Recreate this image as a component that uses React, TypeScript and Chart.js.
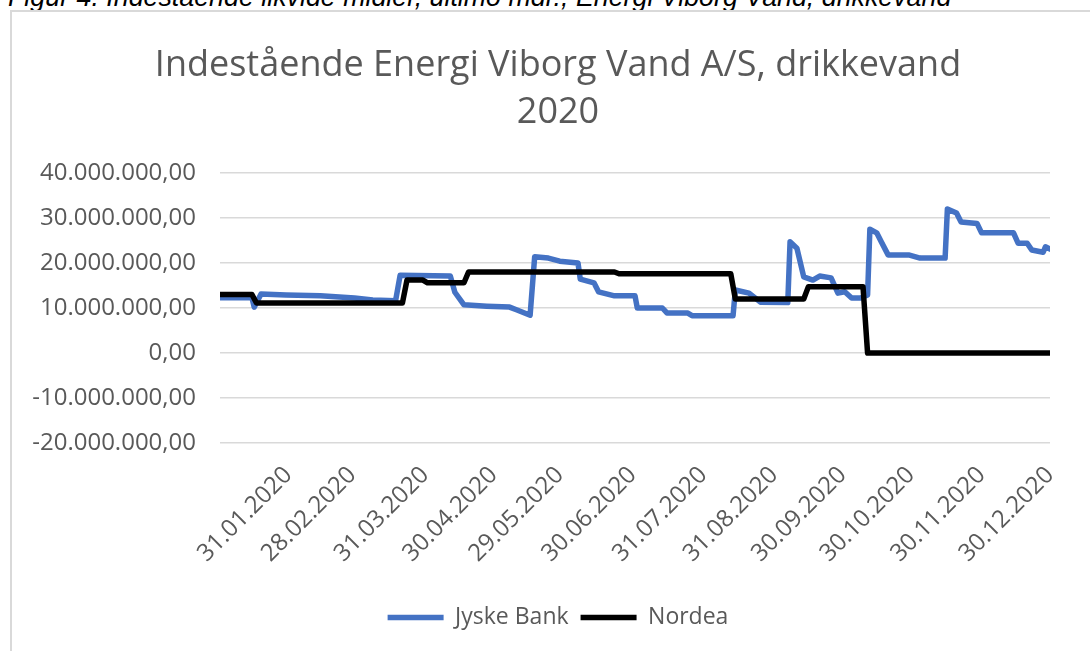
import React, { useEffect, useRef } from "react";
import { Chart, registerables } from "chart.js";

Chart.register(...registerables);

// Day-of-year (2020) for each x-axis tick and its label
const tickDays = [31, 59, 91, 121, 150, 182, 213, 244, 274, 304, 335, 365];
const tickLabels = [
  "31.01.2020", "28.02.2020", "31.03.2020", "30.04.2020", "29.05.2020", "30.06.2020",
  "31.07.2020", "31.08.2020", "30.09.2020", "30.10.2020", "30.11.2020", "30.12.2020",
];

// Jyske Bank: day-of-year and balance (DKK)
const jyskeDays = [
  1, 15, 16, 19, 30, 45, 60, 68, 78, 80, 102, 104, 108, 118, 128, 131, 137, 139, 145, 150,
  158, 159, 165, 167, 174, 183, 184, 195, 197, 206, 208, 226, 227, 233, 238, 250, 251, 254,
  257, 261, 264, 269, 272, 275, 278, 282, 285, 286, 289, 291, 294, 303, 308, 319, 320, 324,
  326, 333, 335, 349, 351, 355, 357, 362, 363, 365,
];
const jyskeValues = [
  12300000, 12300000, 10200000, 13100000, 12900000, 12700000, 12200000, 11800000, 11600000,
  17300000, 17100000, 13500000, 10700000, 10400000, 10200000, 9600000, 8400000, 21400000,
  21100000, 20400000, 20000000, 16400000, 15600000, 13600000, 12700000, 12700000, 10000000,
  10000000, 8900000, 8900000, 8300000, 8300000, 14000000, 13300000, 11300000, 11200000,
  24700000, 23300000, 16900000, 16200000, 17100000, 16700000, 13300000, 13600000, 12200000,
  12200000, 12900000, 27500000, 26700000, 24700000, 21800000, 21800000, 21100000, 21100000,
  32000000, 31100000, 29100000, 28800000, 26700000, 26700000, 24400000, 24400000, 22900000,
  22400000, 23600000, 23100000,
];

// Nordea: day-of-year and balance (DKK)
const nordeaDays = [1, 15, 17, 81, 83, 90, 92, 108, 110, 174, 176, 225, 227, 257, 259, 283, 285, 365];
const nordeaValues = [
  13000000, 13000000, 11100000, 11100000, 16200000, 16200000, 15600000, 15600000, 18000000,
  18000000, 17600000, 17600000, 12000000, 12000000, 14700000, 14700000, 0, 0,
];

const yMin = -20000000;
const yMax = 40000000;
const yStep = 10000000;

const titleLines = ["Indestående Energi Viborg Vand A/S, drikkevand", "2020"];
const seriesNames = ["Jyske Bank", "Nordea"];
const caption = "Figur 4. Indestående likvide midler, ultimo mdr., Energi Viborg Vand, drikkevand";

function formatDK(v: number): string {
  const neg = v < 0;
  const a = Math.abs(Math.round(v));
  const s = String(a).replace(/\B(?=(\d{3})+(?!\d))/g, ".");
  return (neg ? "-" : "") + s + ",00";
}

export default function App() {
  const canvasRef = useRef<HTMLCanvasElement | null>(null);

  useEffect(() => {
    if (!canvasRef.current) return;
    const font = "'Open Sans', sans-serif";
    const grey = "#595959";
    const chart = new Chart(canvasRef.current, {
      type: "line",
      data: {
        datasets: [
          {
            label: seriesNames[0],
            data: jyskeDays.map((d, i) => ({ x: d, y: jyskeValues[i] })),
            borderColor: "#4472C4",
            backgroundColor: "#4472C4",
            borderWidth: 5.5,
            pointRadius: 0,
            tension: 0,
            borderJoinStyle: "round",
            borderCapStyle: "round",
            pointStyle: "line",
            order: 1,
          },
          {
            label: seriesNames[1],
            data: nordeaDays.map((d, i) => ({ x: d, y: nordeaValues[i] })),
            borderColor: "#000000",
            backgroundColor: "#000000",
            borderWidth: 5.5,
            pointRadius: 0,
            tension: 0,
            borderJoinStyle: "round",
            borderCapStyle: "round",
            pointStyle: "line",
            order: 0,
          },
        ],
      },
      options: {
        animation: false,
        responsive: false,
        maintainAspectRatio: false,
        layout: { padding: { left: 20, right: 24, top: 0, bottom: 12 } },
        plugins: {
          tooltip: { enabled: false },
          title: {
            display: true,
            text: titleLines,
            color: grey,
            font: { family: font, size: 36, weight: "normal", lineHeight: 47 / 36 },
            padding: { top: 42, bottom: 37 },
          },
          legend: {
            position: "bottom",
            labels: {
              usePointStyle: true,
              pointStyleWidth: 56,
              boxHeight: 5,
              color: grey,
              font: { family: font, size: 23 },
              padding: 12,
              sort: (a: any, b: any) => a.datasetIndex - b.datasetIndex,
            },
          },
        },
        scales: {
          x: {
            type: "linear",
            min: 1,
            max: 365,
            afterBuildTicks: (scale: any) => {
              scale.ticks = tickDays.map((v) => ({ value: v }));
            },
            afterFit: (scale: any) => {
              scale.height = 151;
            },
            grid: { display: false, drawTicks: false },
            border: { display: false },
            ticks: {
              autoSkip: false,
              minRotation: 45,
              maxRotation: 45,
              padding: 18,
              color: grey,
              font: { family: font, size: 24 },
              callback: (_v: any, i: number) => tickLabels[i],
            },
          },
          y: {
            min: yMin,
            max: yMax,
            afterFit: (scale: any) => {
              scale.width = 200;
            },
            grid: { color: "#d9d9d9", lineWidth: 1.5, drawTicks: false },
            border: { display: false },
            ticks: {
              stepSize: yStep,
              padding: 24,
              color: grey,
              font: { family: font, size: 24 },
              callback: (v: any) => formatDK(Number(v)),
            },
          },
          yRightSpace: {
            type: "linear",
            position: "right",
            display: true,
            afterFit: (scale: any) => {
              scale.width = 46;
            },
            grid: { display: false, drawTicks: false },
            border: { display: false },
            ticks: { display: false },
          },
        },
      },
    });
    return () => chart.destroy();
  }, []);

  return (
    <div
      style={{
        position: "fixed",
        left: 0,
        top: 0,
        width: 1090,
        height: 651,
        overflow: "hidden",
        background: "#ffffff",
      }}
    >
      <div
        style={{
          position: "absolute",
          left: 8,
          top: -18,
          fontFamily: "'Liberation Sans', Arial, sans-serif",
          fontStyle: "italic",
          fontSize: 26.8,
          color: "#000000",
          whiteSpace: "nowrap",
          lineHeight: "normal",
        }}
      >
        {caption}
      </div>
      <div
        style={{
          position: "absolute",
          left: 10,
          top: 10,
          width: 1200,
          height: 800,
          borderLeft: "2px solid #d9d9d9",
          borderTop: "2px solid #d9d9d9",
        }}
      />
      <canvas
        ref={canvasRef}
        width={1120}
        height={651}
        style={{ position: "absolute", left: 0, top: 0, width: 1120, height: 651 }}
      />
    </div>
  );
}
